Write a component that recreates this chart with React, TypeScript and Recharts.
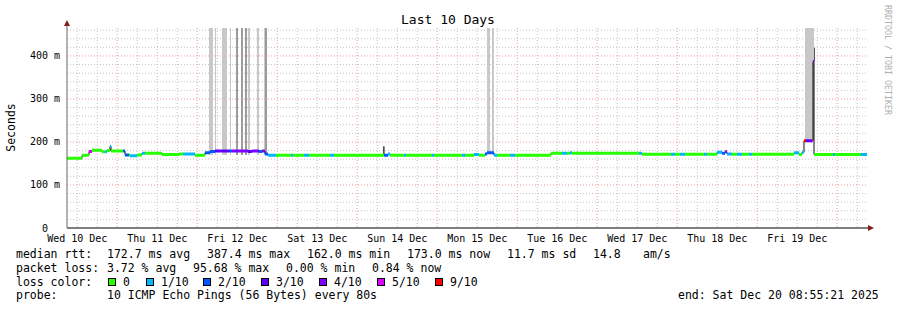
import React from "react";
import {
  ComposedChart,
  Line,
  Area,
  XAxis,
  YAxis,
  CartesianGrid,
  ReferenceDot,
} from "recharts";

// time axis = hours since window start (Wed 10 Dec 08:55:21)
const dayLabels = [
  "Wed 10 Dec", "Thu 11 Dec", "Fri 12 Dec", "Sat 13 Dec", "Sun 14 Dec",
  "Mon 15 Dec", "Tue 16 Dec", "Wed 17 Dec", "Thu 18 Dec", "Fri 19 Dec",
];
const noonTicks = [3.08, 27.08, 51.08, 75.08, 99.08, 123.08, 147.08, 171.08, 195.08, 219.08];
const midnightLines = [15.08, 39.08, 63.08, 87.08, 111.08, 135.08, 159.08, 183.08, 207.08, 231.08];
const yTicks = [0, 100, 200, 300, 400];

// median rtt, one step per segment: edges (hours), ms, loss bucket
const medianEdges = [
  0, 4.5, 6.6, 7.5, 10.5, 11.4, 12, 12.9, 13.2, 16.8, 17.4, 18.6, 18.9, 21, 22.5, 23.4,
  28.5, 33.6, 34.8, 38.4, 41.4, 42.9, 44.4, 48.9, 49.5, 54.3, 55.5, 57.6, 58.5, 59.4,
  60.3, 62.7, 67.2, 67.8, 71.1, 72.6, 78.9, 80.1, 95.1, 96.3, 96.9, 101.1, 101.7, 109.5,
  110.1, 118.5, 119.4, 122.1, 123.6, 125.4, 126, 128.1, 129, 132.9, 134.4, 145.2, 148.5,
  150, 150.9, 151.5, 171.6, 172.5, 181.2, 182.4, 183.9, 185.4, 191.1, 192, 195, 196.5,
  197.4, 198, 199.5, 201, 202.5, 204.6, 205.5, 218.1, 219.6, 220.5, 221.1, 221.7, 223.5,
  223.8, 224.1, 229.8, 230.4, 238.2, 240,
];
const medianMs = [
  162, 169, 178, 181, 177, 177, 180, 190, 179, 179, 170, 170, 168, 170, 174, 174,
  171, 172, 172, 169, 175, 178, 179, 179, 179, 178, 179, 178, 179, 172,
  169, 169, 169, 169, 169, 169, 169, 169, 169, 172, 169, 169, 169, 169,
  169, 169, 169, 171, 169, 172, 175, 169, 169, 169, 169, 174, 174,
  174, 175, 174, 174, 171.5, 171.5, 171.5, 171.5, 171.5, 171.5, 171.5, 176, 174,
  177, 172, 171.5, 171.5, 171.5, 171.5, 171.5, 175, 171, 176, 203, 203, 203,
  387, 171, 171, 171, 171,
];
const medianLoss = [
  0, 0, 5, 0, 0, 1, 0, 1, 0, 2, 2, 0, 1, 0, 1, 0,
  0, 0, 1, 0, 2, 2, 3, 2, 4, 3, 4, 2, 4, 2,
  1, 0, 1, 0, 1, 0, 1, 0, 2, 1, 0, 1, 0, 1,
  0, 1, 0, 1, 0, 2, 2, 1, 0, 1, 0, 0, 1,
  0, 1, 0, 1, 0, 1, 0, 1, 0, 1, 0, 1, 2,
  4, 1, 0, 1, 0, 1, 0, 1, 0, 1, 6, 3, 5,
  4, 0, 1, 0, 1,
];

// smoke (spread of the pings)
const smokeStart = [42.6, 44.4, 46.5, 48.9, 50.7, 52.2, 53.4, 54.3, 57.0, 59.1, 59.4, 94.8, 126, 127.5, 221.4, 224.1];
const smokeEnd = [43.8, 44.7, 48.0, 49.2, 51.3, 52.8, 54.0, 54.9, 57.6, 59.4, 60.0, 95.3, 126.9, 128.1, 224.1, 224.4];
const smokeLow = [170, 170, 170, 170, 170, 170, 170, 170, 170, 170, 170, 170, 172, 172, 203, 387];
const smokeHigh = [465, 465, 465, 465, 465, 465, 465, 465, 465, 465, 465, 190, 465, 465, 465, 419];
const smokeShade = [0, 0, 0, 0, 1, 1, 1, 0, 0, 0, 1, 2, 0, 0, 0, 2];
const shadeColors = ["#c8c8c8", "#9c9c9c", "#505050"];

const lossLabels = ["0", "1/10", "2/10", "3/10", "4/10", "5/10", "9/10"];
const lossColors = ["#26ff00", "#00b8ff", "#0059ff", "#5e00ff", "#7e00ff", "#dd00ff", "#ff0000"];

const minorX: number[] = [];
for (let k = 0; k < 40; k++) if (k % 4 !== 2) minorX.push(3.08 + 6 * k);
const minorY: number[] = [];
for (let v = 20; v <= 460; v += 20) if (v % 100 !== 0) minorY.push(v);
const majorY = [100, 200, 300, 400];

const medianPath = medianMs.flatMap((v, i) => [
  { t: medianEdges[i], v },
  { t: medianEdges[i + 1], v },
]);
const lossSeries = lossColors.map((_, k) =>
  medianMs.flatMap((v, i) =>
    medianLoss[i] === k
      ? [
          { t: medianEdges[i], v },
          { t: medianEdges[i + 1], v },
          { t: medianEdges[i + 1], v: null },
        ]
      : []
  )
);

const mono = "'DejaVu Sans Mono', monospace";

const XTick = (p: any) => (
  <text x={p.x} y={p.y + 14} textAnchor="middle" fontFamily={mono} fontSize={10} fill="#000">
    {dayLabels[noonTicks.indexOf(p.payload.value)]}
  </text>
);

const YTick = (p: any) => (
  <text x={p.x} y={p.y + 3.5} textAnchor="end" fontFamily={mono} fontSize={10} fill="#000" xmlSpace="preserve" style={{ whiteSpace: "pre" }}>
    {p.payload.value === 0 ? "0  " : `${p.payload.value} m`}
  </text>
);

const legendRows: [number, number, string][] = [
  [16, 258, "median rtt:"], [107, 258, "172.7 ms avg"], [207, 258, "387.4 ms max"],
  [307, 258, "162.0 ms min"], [407, 258, "173.0 ms now"], [507, 258, "11.7 ms sd"],
  [593, 258, "14.8"], [643, 258, "am/s"],
  [16, 272, "packet loss:"], [107, 272, "3.72 % avg"], [193, 272, "95.68 % max"],
  [286, 272, "0.00 % min"], [372, 272, "0.84 % now"],
  [16, 285.5, "loss color:"],
  [16, 299, "probe:"], [107, 299, "10 ICMP Echo Pings (56 Bytes) every 80s"],
  [678, 299, "end: Sat Dec 20 08:55:21 2025"],
];
const swatchX = [108, 146, 203, 261, 319, 377, 435];

export default function App() {
  return (
    <div style={{ position: "absolute", left: 0, top: 0, width: 897, height: 310, background: "#fff" }}>
      <ComposedChart width={897} height={310} margin={{ top: 28, right: 30, bottom: 62, left: 8 }}>
        <CartesianGrid horizontalValues={minorY} verticalValues={minorX} stroke="#c4c4c4" strokeDasharray="1 2" />
        <CartesianGrid horizontalValues={majorY} verticalValues={midnightLines} stroke="#f29a9a" strokeDasharray="1 2" />
        <XAxis
          type="number"
          dataKey="t"
          domain={[0, 240]}
          ticks={noonTicks}
          allowDataOverflow
          height={20}
          tickSize={0}
          tickMargin={0}
          tick={XTick}
          axisLine={{ stroke: "#000" }}
          interval={0}
        />
        <YAxis
          type="number"
          domain={[0, 465]}
          ticks={yTicks}
          allowDataOverflow
          width={59}
          tickSize={0}
          tickMargin={7}
          tick={YTick}
          axisLine={{ stroke: "#666" }}
          interval={0}
        />
        {smokeStart.map((s, i) => (
          <Area
            key={"smoke" + i}
            data={[
              { t: s, r: [smokeLow[i], smokeHigh[i]] },
              { t: smokeEnd[i], r: [smokeLow[i], smokeHigh[i]] },
            ]}
            dataKey="r"
            type="linear"
            stroke="none"
            fill={shadeColors[smokeShade[i]]}
            fillOpacity={1}
            dot={false}
            activeDot={false}
            isAnimationActive={false}
          />
        ))}
        <Line data={medianPath} dataKey="v" type="linear" stroke="#111" strokeWidth={1} dot={false} activeDot={false} isAnimationActive={false} />
        {lossSeries.map((d, k) => (
          <Line
            key={"loss" + k}
            data={d}
            dataKey="v"
            type="linear"
            stroke={lossColors[k]}
            strokeWidth={3}
            dot={false}
            activeDot={false}
            connectNulls={false}
            isAnimationActive={false}
          />
        ))}
        <ReferenceDot
          x={240}
          y={0}
          ifOverflow="visible"
          shape={(p: any) => (
            <g>
              <line x1={p.cx} y1={p.cy} x2={p.cx + 2} y2={p.cy} stroke="#000" />
              <path d={`M${p.cx + 1},${p.cy - 3} L${p.cx + 7},${p.cy} L${p.cx + 1},${p.cy + 3} Z`} fill="#8b1a1a" />
            </g>
          )}
        />
        <ReferenceDot
          x={0}
          y={465}
          ifOverflow="visible"
          shape={(p: any) => (
            <g>
              <line x1={p.cx} y1={p.cy} x2={p.cx} y2={p.cy - 3} stroke="#666" />
              <path d={`M${p.cx - 3},${p.cy - 2} L${p.cx},${p.cy - 8} L${p.cx + 3},${p.cy - 2} Z`} fill="#8b1a1a" />
            </g>
          )}
        />
      </ComposedChart>
      <svg width={897} height={310} style={{ position: "absolute", left: 0, top: 0, pointerEvents: "none" }}>
        <text x={448} y={24} textAnchor="middle" fontFamily={mono} fontSize={13} fill="#000">
          Last 10 Days
        </text>
        <text transform="translate(15,127.5) rotate(-90)" textAnchor="middle" fontFamily={mono} fontSize={11.5} fill="#000">
          Seconds
        </text>
        <text transform="translate(885,5) rotate(90)" fontFamily={mono} fontSize={8.3} fill="#b0b0b0">
          RRDTOOL / TOBI OETIKER
        </text>
        {legendRows.map(([x, y, s], i) => (
          <text key={i} x={x} y={y} fontFamily={mono} fontSize={11.5} fill="#000">
            {s}
          </text>
        ))}
        {lossLabels.map((l, k) => (
          <g key={l}>
            <rect x={swatchX[k] + 0.5} y={278.5} width={7} height={7} fill={lossColors[k]} stroke="#000" />
            <text x={swatchX[k] + 15} y={285.5} fontFamily={mono} fontSize={11.5} fill="#000">
              {l}
            </text>
          </g>
        ))}
      </svg>
    </div>
  );
}
